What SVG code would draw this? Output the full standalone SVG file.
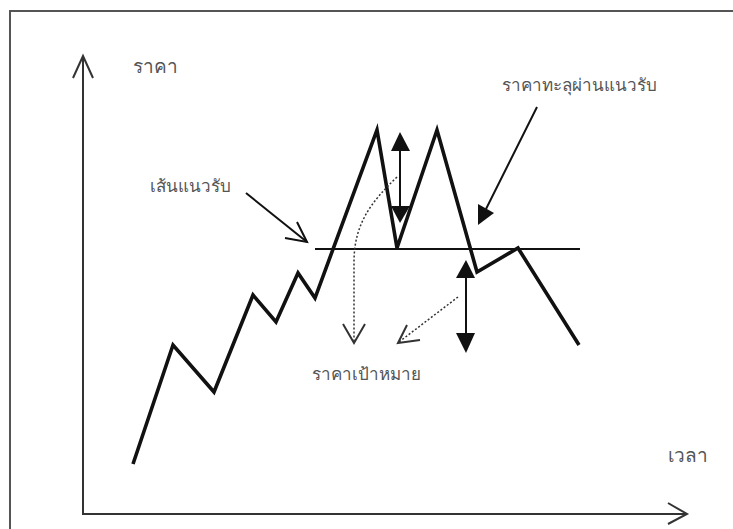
<svg xmlns="http://www.w3.org/2000/svg" width="733" height="529" viewBox="0 0 733 529">
<defs>
<style>
.lbl{font-family:"Noto Sans","DejaVu Sans",sans-serif;font-size:19px;fill:#555}
.sm{font-size:17px}
.price{fill:none;stroke:#111;stroke-width:3.6;stroke-linejoin:miter}
.thin{fill:none;stroke:#111;stroke-width:2}
.axis{fill:none;stroke:#333;stroke-width:2}
.dot{fill:none;stroke:#333;stroke-width:1.5;stroke-dasharray:2 2}
.head{fill:#111;stroke:none}
</style>
</defs>
<rect width="733" height="529" fill="#fff"/>
<path d="M10,529 V11 H733" fill="none" stroke="#555" stroke-width="2"/>
<g id="axes">
<path class="axis" d="M83,57 V514 H686"/>
<path class="axis" d="M73,78 L83,56 L93,78"/>
<path class="axis" d="M668,503 L687,514 L668,524"/>
</g>
<g id="price-line">
<polyline class="price" points="133,464 173,345 214,392 253,295 276,322 298,273 315,298 377,130 397,248 437,130 477,272 518,248 579,345"/>
</g>
<g id="support-line">
<line class="thin" x1="315" y1="249" x2="580" y2="249"/>
</g>
<g id="connectors">
<line class="thin" x1="246" y1="193" x2="307" y2="242"/>
<path class="thin" d="M285,238 L307,242 L297,222"/>
<line class="thin" x1="537" y1="107" x2="486" y2="209"/>
<polygon class="head" points="478,204 494,213 478,225"/>
<line class="thin" x1="400" y1="150" x2="400" y2="207"/>
<polygon class="head" points="400,132 391,151 410,151"/>
<polygon class="head" points="391,206 410,206 400,223"/>
<line class="thin" x1="466" y1="277" x2="466" y2="334"/>
<polygon class="head" points="466,260 456,278 475,278"/>
<polygon class="head" points="456,333 475,333 466,353"/>
<path class="dot" d="M397,177 C370,203 354,225 354,262 L354,342"/>
<path class="axis" d="M343,324 L354,343 L365,324" stroke-width="1.5"/>
<line class="dot" x1="458" y1="297" x2="399" y2="342"/>
<path class="axis" d="M407,325 L398,343 L420,340" stroke-width="1.5"/>
</g>
<g id="labels">
<text class="lbl" x="133" y="73">ราคา</text>
<text class="lbl sm" x="502" y="91">ราคาทะลุผ่านแนวรับ</text>
<text class="lbl sm" x="150" y="192">เส้นแนวรับ</text>
<text class="lbl sm" x="312" y="380">ราคาเป้าหมาย</text>
<text class="lbl" x="668" y="462">เวลา</text>
</g>
</svg>
